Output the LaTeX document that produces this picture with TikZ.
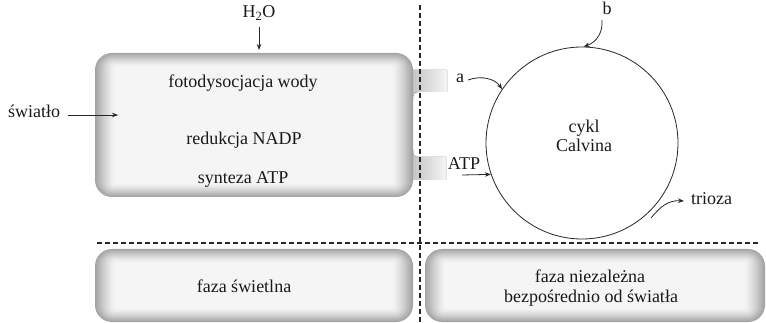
\documentclass[tikz,border=0pt]{standalone}
\usepackage{fontspec}
\setmainfont{Liberation Serif}
\usetikzlibrary{arrows.meta}
\newcommand\glowbox[4]{%
  \foreach \i in {0,...,22}{%
    \pgfmathsetmacro\g{4+32*(1-\i/22)^1.3}%
    \pgfmathsetmacro\r{max(17-0.8*\i,3)}%
    \fill[black!\g, rounded corners=\r pt] ({#1+\i*0.9},{#2+\i*0.6}) rectangle ({#3-\i*0.9},{#4-\i*0.6});
  }}
\begin{document}
\begin{tikzpicture}[x=1pt,y=-1pt,
  font=\fontsize{18}{20}\selectfont,
  lbl/.style={inner sep=0pt, anchor=base, text=black!90},
  arr/.style={-{Stealth[length=6pt,width=4.5pt]}, line width=0.8pt, black!85},
  divider/.style={dash pattern=on 5pt off 3pt, line width=1.1pt, black!85},
  tab/.style={left color=black!30, right color=black!4}
]
\useasboundingbox (0,0) rectangle (766,323);

% tabs
\fill[tab] (400,70) -- (447,70) -- (447,92) -- (419,92) .. controls (414,92) and (413,94) .. (413,99) -- (400,99) -- cycle;
\fill[tab] (400,150) -- (413,150) .. controls (413,155) and (414,157) .. (419,157) -- (446,157) -- (446,180) -- (400,180) -- cycle;

% boxes
\glowbox{95}{53}{413}{197}
\glowbox{95}{249}{413}{322}
\glowbox{425}{249}{765}{322}

% dividers
\coordinate (vtop) at (420,5);
\coordinate (vbot) at (420,323);
\coordinate (hleft) at (97,243);
\coordinate (hright) at (758,243);
\draw[divider] (vtop) -- (vbot);
\draw[divider] (hleft) -- (hright);

% texts in light-phase box
\node[lbl] (foto) at (243,88) {fotodysocjacja wody};
\node[lbl] (nadp) at (244,145) {redukcja NADP};
\node[lbl] (synt) at (243,184) {synteza ATP};

% bottom labels
\node[lbl] (faza1) at (244,292) {faza świetlna};
\node[lbl] (faza2a) at (590,283) {faza niezależna};
\node[lbl] (faza2b) at (591,302) {bezpośrednio od światła};

% inputs
\node[lbl] (h2o) at (259,18) {H\textsubscript{2}O};
\coordinate (h2os) at (259,27);
\coordinate (h2oe) at (259,50);
\draw[arr] (h2os) -- (h2oe);

\node[lbl, anchor=base west] (sw) at (8,118) {światło};
\coordinate (sws) at (68,115);
\coordinate (swe) at (118,115);
\draw[arr] (sws) -- (swe);

% Calvin cycle
\node[draw, circle, minimum size=192pt, inner sep=0pt, line width=0.8pt, black!85] (calvin) at (582,143) {};
\node[lbl] (cykl) at (584,133) {cykl};
\node[lbl] (calv) at (584,152) {Calvina};

\node[lbl] (a) at (460,83) {a};
\coordinate (as) at (468,80);
\draw[arr] (as) .. controls (482,75) and (495,79) .. (calvin.146);

\node[lbl] (atp) at (464,170) {ATP};
\coordinate (atps) at (462,175);
\draw[arr] (atps) -- (calvin.199);

\node[lbl] (b) at (607,15) {b};
\coordinate (bs) at (602,20);
\draw[arr] (bs) .. controls (603,32) and (597,42) .. (calvin.89);

\node[lbl, anchor=base west] (trioza) at (691,205) {trioza};
\coordinate (ts) at (651,218);
\coordinate (te) at (684,201);
\draw[arr] (ts) .. controls (660,207) and (668,200) .. (te);
\end{tikzpicture}
\end{document}
